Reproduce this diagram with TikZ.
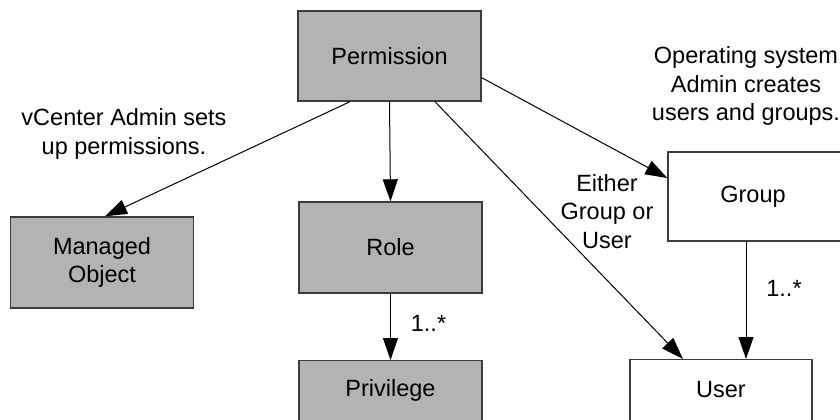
\documentclass[tikz,border=0pt]{standalone}
\usepackage{fontspec}
\setmainfont{Liberation Sans}
\usetikzlibrary{arrows.meta}
\definecolor{boxgray}{RGB}{179,179,179}
\definecolor{edgegray}{RGB}{60,60,60}
\tikzset{
  box/.style={draw=edgegray, line width=1.4pt, inner sep=0pt, minimum width=183pt, minimum height=90pt},
  filledbox/.style={box, fill=boxgray},
  plainbox/.style={box, fill=white},
  txt/.style={inner sep=0pt, align=center, font=\fontsize{23.5}{28.5}\selectfont},
  conn/.style={line width=1pt, -{Triangle[length=22pt,width=15pt]}},
}
\begin{document}
\begin{tikzpicture}[x=1pt,y=-1pt]
\useasboundingbox[fill=white] (0,0) rectangle (840,420);
% boxes
\node[filledbox] (perm) at (389.5,56) {};
\node[txt] (permt) at (389.5,56) {Permission};
\node[filledbox, minimum height=91pt] (mo) at (102,262.5) {};
\node[txt] (mot) at (102,262.5) {Managed\\Object};
\node[filledbox, minimum height=91pt] (role) at (390.5,247.5) {};
\node[txt] (rolet) at (390.5,247.5) {Role};
\node[filledbox, minimum height=91pt, anchor=north] (priv) at (390.5,360) {};
\node[txt] (privt) at (390.5,390) {Privilege};
\node[plainbox, minimum width=182pt, minimum height=89pt] (group) at (759,196.5) {};
\node[txt] (groupt) at (753,196.5) {Group};
\node[plainbox, minimum width=182pt, minimum height=91pt, anchor=north] (user) at (721,359) {};
\node[txt] (usert) at (721,390) {User};
% labels
\node[txt] (lvc) at (124,134) {vCenter Admin sets\\up permissions.};
\node[txt] (los) at (746,86) {Operating system\\Admin creates\\users and groups.};
\node[txt] (leg) at (607,211.5) {Either\\Group or\\User};
\node[txt] (lrp) at (428.5,323) {1..*};
\node[txt] (lgu) at (784,288) {1..*};
% connectors
\coordinate (gx) at (746,0);
\draw[conn] ([xshift=-39.5pt]perm.south) -- ([xshift=3pt]mo.north);
\draw[conn] (perm.south) -- (role.north);
\draw[conn] (role.south) -- (priv.north);
\draw[conn] ([yshift=24pt]perm.south east) -- ([yshift=18.5pt]group.west);
\draw[conn] ([xshift=45.5pt]perm.south) -- ([xshift=-38pt]user.north);
\draw[conn] (group.south -| gx) -- (user.north -| gx);
\end{tikzpicture}
\end{document}
